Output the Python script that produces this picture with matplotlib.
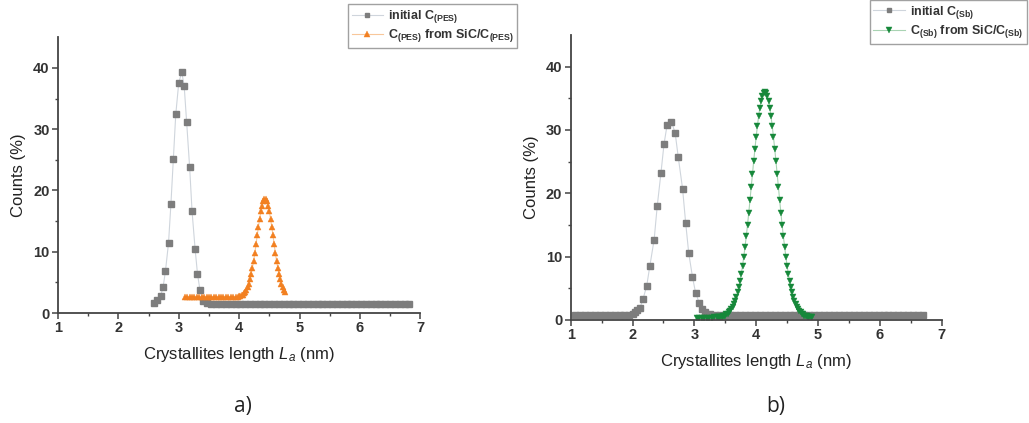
import matplotlib
matplotlib.use("Agg")
import matplotlib.pyplot as plt

plt.rcParams['font.family'] = ['Liberation Sans', 'DejaVu Sans']
plt.rcParams['mathtext.fontset'] = 'custom'
plt.rcParams['mathtext.rm'] = 'Liberation Sans'
plt.rcParams['mathtext.it'] = 'Liberation Sans:italic'
plt.rcParams['mathtext.bf'] = 'Liberation Sans:bold'

# ---- panel a) : PES ----
pes_init_x = [2.59, 2.64, 2.70, 2.74, 2.78, 2.83, 2.87, 2.91, 2.95, 3.00, 3.05, 3.09,
              3.13, 3.18, 3.22, 3.27, 3.31, 3.35, 3.40,
              3.46, 3.54, 3.62, 3.70, 3.78, 3.86, 3.94, 4.02, 4.10, 4.18, 4.26, 4.34,
              4.42, 4.50, 4.58, 4.66, 4.74, 4.82, 4.90, 4.98, 5.06, 5.14, 5.22, 5.30,
              5.38, 5.46, 5.54, 5.62, 5.70, 5.78, 5.86, 5.94, 6.02, 6.10, 6.18, 6.26,
              6.34, 6.42, 6.50, 6.58, 6.66, 6.74, 6.82]
pes_init_y = [1.7, 2.1, 2.8, 4.2, 6.9, 11.4, 17.8, 25.1, 32.4, 37.6, 39.3, 37.0,
              31.2, 23.8, 16.6, 10.5, 6.4, 3.8, 2.0,
              1.6, 1.5, 1.5, 1.5, 1.5, 1.5, 1.5, 1.5, 1.5, 1.5, 1.5, 1.5,
              1.5, 1.5, 1.5, 1.5, 1.5, 1.5, 1.5, 1.5, 1.5, 1.5, 1.5, 1.5,
              1.5, 1.5, 1.5, 1.5, 1.5, 1.5, 1.5, 1.5, 1.5, 1.5, 1.5, 1.5,
              1.5, 1.5, 1.5, 1.5, 1.5, 1.5, 1.5]

pes_sic_x = [3.10, 3.14, 3.18, 3.22, 3.26, 3.30, 3.34, 3.38, 3.42, 3.46, 3.50, 3.54,
             3.58, 3.62, 3.66, 3.70, 3.74, 3.78, 3.82, 3.86, 3.90, 3.94, 3.98,
             4.00, 4.02, 4.04, 4.06, 4.08, 4.10, 4.12, 4.14, 4.16, 4.18, 4.20, 4.22,
             4.24, 4.26, 4.28, 4.30, 4.32, 4.34, 4.36, 4.38, 4.40, 4.42, 4.44, 4.46,
             4.48, 4.50, 4.52, 4.54, 4.56, 4.58, 4.60, 4.62, 4.64, 4.66, 4.68, 4.70,
             4.72, 4.74, 4.76]
pes_sic_y = [2.6, 2.6, 2.6, 2.6, 2.6, 2.6, 2.6, 2.6, 2.6, 2.6, 2.6, 2.6,
             2.6, 2.6, 2.6, 2.6, 2.6, 2.6, 2.6, 2.6, 2.6, 2.6, 2.6,
             2.7, 2.8, 2.9, 3.0, 3.2, 3.4, 3.7, 4.2, 4.8, 5.5, 6.4, 7.4,
             8.5, 9.8, 11.2, 12.7, 14.1, 15.4, 16.6, 17.5, 18.2, 18.6, 18.6, 18.2,
             17.5, 16.6, 15.4, 14.1, 12.7, 11.2, 9.8, 8.5, 7.4, 6.4, 5.5, 4.8,
             4.2, 3.7, 3.4]

# ---- panel b) : Sb ----
sb_init_x = [1.07, 1.15, 1.23, 1.31, 1.39, 1.47, 1.55, 1.63, 1.71, 1.79, 1.87, 1.95,
             2.00, 2.04, 2.08, 2.12, 2.17, 2.23, 2.28, 2.35, 2.40, 2.46, 2.51, 2.56,
             2.63, 2.69, 2.74, 2.81, 2.86, 2.91, 2.97, 3.02, 3.08, 3.13, 3.18,
             3.26, 3.34, 3.42, 3.50, 3.58, 3.66, 3.74, 3.82, 3.90, 3.98, 4.06, 4.14,
             4.22, 4.30, 4.38, 4.46, 4.54, 4.62, 4.70, 4.78, 4.86, 4.94, 5.02, 5.10,
             5.18, 5.26, 5.34, 5.42, 5.50, 5.58, 5.66, 5.74, 5.82, 5.90, 5.98, 6.06,
             6.14, 6.22, 6.30, 6.38, 6.46, 6.54, 6.62, 6.70]
sb_init_y = [0.8, 0.8, 0.8, 0.8, 0.8, 0.8, 0.8, 0.8, 0.8, 0.8, 0.8, 0.8,
             1.0, 1.2, 1.5, 1.9, 3.3, 5.4, 8.5, 12.7, 18.0, 23.2, 27.8, 30.8,
             31.3, 29.5, 25.7, 20.7, 15.3, 10.5, 6.8, 4.3, 2.7, 1.7, 1.2,
             0.9, 0.8, 0.8, 0.8, 0.8, 0.8, 0.8, 0.8, 0.8, 0.8, 0.8, 0.8,
             0.8, 0.8, 0.8, 0.8, 0.8, 0.8, 0.8, 0.8, 0.8, 0.8, 0.8, 0.8,
             0.8, 0.8, 0.8, 0.8, 0.8, 0.8, 0.8, 0.8, 0.8, 0.8, 0.8, 0.8,
             0.8, 0.8, 0.8, 0.8, 0.8, 0.8, 0.8, 0.8]

sb_sic_x = [3.04, 3.08, 3.12, 3.16, 3.20, 3.24, 3.28, 3.32, 3.36,
            3.38, 3.40, 3.42, 3.44, 3.46, 3.48, 3.50, 3.52, 3.54, 3.56, 3.58, 3.60,
            3.62, 3.64, 3.66, 3.68, 3.70, 3.72, 3.74, 3.76, 3.78, 3.80, 3.82, 3.84,
            3.86, 3.88, 3.90, 3.92, 3.94, 3.96, 3.98, 4.00, 4.02, 4.04, 4.06, 4.08,
            4.10, 4.12, 4.14, 4.16, 4.18, 4.20, 4.22, 4.24, 4.26, 4.28, 4.30, 4.32,
            4.34, 4.36, 4.38, 4.40, 4.42, 4.44, 4.46, 4.48, 4.50, 4.52, 4.54, 4.56,
            4.58, 4.60, 4.62, 4.64, 4.66, 4.68, 4.70, 4.72, 4.74, 4.76, 4.78, 4.80,
            4.82, 4.84, 4.86, 4.88, 4.90]
sb_sic_y = [0.3, 0.3, 0.3, 0.3, 0.3, 0.3, 0.3, 0.4, 0.4,
            0.5, 0.5, 0.5, 0.5, 0.6, 0.7, 0.7, 0.9, 1.0, 1.2, 1.4, 1.7,
            2.1, 2.5, 3.0, 3.6, 4.4, 5.2, 6.2, 7.3, 8.6, 10.0, 11.6, 13.2,
            15.0, 16.9, 18.9, 21.0, 23.0, 25.1, 27.0, 28.9, 30.6, 32.2, 33.5, 34.6,
            35.4, 35.8, 36.0, 35.8, 35.4, 34.6, 33.5, 32.2, 30.6, 28.9, 27.0, 25.1,
            23.0, 21.0, 18.9, 16.9, 15.0, 13.2, 11.6, 10.0, 8.6, 7.3, 6.2, 5.2,
            4.4, 3.6, 3.0, 2.5, 2.1, 1.7, 1.4, 1.2, 1.0, 0.9, 0.7, 0.7,
            0.6, 0.5, 0.5, 0.5, 0.5]

grey = '#7d7d7d'
orange = '#f28021'
green = '#16883a'
axcol = '#444444'

fig = plt.figure(figsize=(10.29, 4.23), dpi=100)
ax1 = fig.add_axes([0.0564, 0.260, 0.352, 0.652])
ax2 = fig.add_axes([0.5546, 0.2435, 0.3605, 0.674])


def style(ax):
    ax.set_xlim(1, 7)
    ax.set_ylim(0, 45)
    ax.set_xticks([1, 2, 3, 4, 5, 6, 7])
    ax.set_xticks([1.5, 2.5, 3.5, 4.5, 5.5, 6.5], minor=True)
    ax.set_yticks([0, 10, 20, 30, 40])
    ax.set_yticks([5, 15, 25, 35], minor=True)
    for s in ['top', 'right']:
        ax.spines[s].set_visible(False)
    for s in ['left', 'bottom']:
        ax.spines[s].set_color(axcol)
        ax.spines[s].set_linewidth(1.3)
    ax.tick_params(which='major', direction='out', length=4, width=1.1,
                   color=axcol, labelsize=10.5, labelcolor='#333333', pad=2)
    ax.tick_params(which='minor', direction='out', length=2.5, width=1.0, color=axcol)
    for lab in ax.get_xticklabels() + ax.get_yticklabels():
        lab.set_fontweight('bold')
    ax.set_xlabel(r'Crystallites length $L_a$ (nm)', fontsize=12, color='#222222', labelpad=7)
    ax.set_ylabel('Counts (%)', fontsize=12, color='#222222', labelpad=5)


ax1.plot(pes_init_x, pes_init_y, color='#cfd5dc', lw=0.8, marker='s', ms=4.8,
         mfc=grey, mec=grey, label=r'initial C$_\mathbf{(PES)}$')
ax1.plot(pes_sic_x, pes_sic_y, color='#f8c79a', lw=0.8, marker='^', ms=5,
         mfc=orange, mec=orange, mew=0.3, label=r'C$_\mathbf{(PES)}$ from SiC/C$_\mathbf{(PES)}$')
style(ax1)

ax2.plot(sb_init_x, sb_init_y, color='#cfd5dc', lw=0.8, marker='s', ms=4.8,
         mfc=grey, mec=grey, label=r'initial C$_\mathbf{(Sb)}$')
ax2.plot(sb_sic_x, sb_sic_y, color='#a9d3b3', lw=0.8, marker='v', ms=5,
         mfc=green, mec=green, mew=0.3, label=r'C$_\mathbf{(Sb)}$ from SiC/C$_\mathbf{(Sb)}$')
style(ax2)

for ax, anchor in [(ax1, (0.338, 0.990)), (ax2, (0.845, 1.0))]:
    leg = ax.legend(loc='upper left', bbox_to_anchor=anchor, bbox_transform=fig.transFigure,
                    prop={'size': 9, 'weight': 'bold'}, frameon=True, fancybox=False,
                    borderaxespad=0, handlelength=2.5, handletextpad=0.4, markerscale=0.75,
                    borderpad=0.3, labelspacing=0.2)
    leg.get_frame().set_edgecolor('#8a8a8a')
    leg.get_frame().set_linewidth(1.0)
    for t in leg.get_texts():
        t.set_color('#333333')

fig.text(0.236, 0.040, 'a)', fontsize=15, family='Open Sans', ha='center', va='center', color='#222222')
fig.text(0.754, 0.040, 'b)', fontsize=15, family='Open Sans', ha='center', va='center', color='#222222')

fig.savefig('out.png', dpi=100)
